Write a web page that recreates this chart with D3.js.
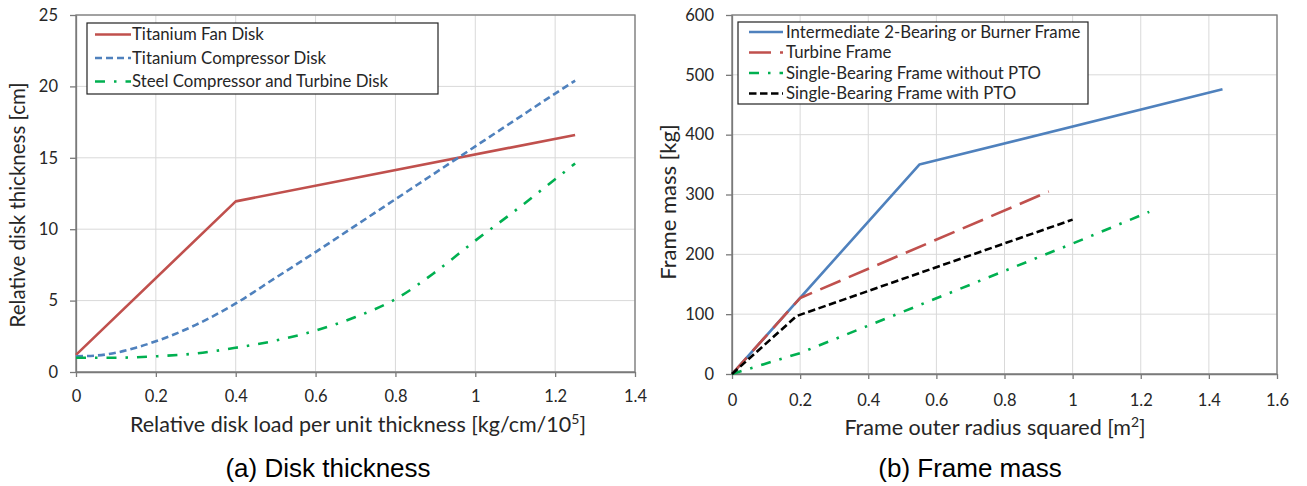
<!DOCTYPE html>
<html><head><meta charset="utf-8">
<script src="https://cdn.jsdelivr.net/npm/d3@7"></script>
<style>
body{margin:0;background:#fff;}
svg{display:block;}
</style></head>
<body><svg id="c" width="1307" height="486"></svg>
<script>
// ---------- data: (a) Disk thickness ----------
const diskXTicks = [0, 0.2, 0.4, 0.6, 0.8, 1, 1.2, 1.4];
const diskYTicks = [0, 5, 10, 15, 20, 25];
const fanX   = [0, 0.4, 1.25];
const fanY   = [1.2, 11.95, 16.6];
const compX  = [0, 0.05, 0.1, 0.15, 0.2, 0.3, 0.4, 0.5, 0.6, 0.7, 0.8, 0.9, 1.0, 1.1, 1.2, 1.25];
const compY  = [1.1, 1.15, 1.35, 1.7, 2.15, 3.3, 4.8, 6.6, 8.4, 10.25, 12.1, 13.95, 15.8, 17.65, 19.5, 20.4];
const steelX = [0, 0.1, 0.2, 0.3, 0.4, 0.5, 0.6, 0.7, 0.8, 0.9, 1.0, 1.1, 1.2, 1.25];
const steelY = [1.0, 1.0, 1.1, 1.3, 1.7, 2.2, 2.9, 3.85, 5.1, 7.0, 9.2, 11.3, 13.5, 14.6];
const diskNames = ["Titanium Fan Disk", "Titanium Compressor Disk", "Steel Compressor and Turbine Disk"];

// ---------- data: (b) Frame mass ----------
const frameXTicks = [0, 0.2, 0.4, 0.6, 0.8, 1, 1.2, 1.4, 1.6];
const frameYTicks = [0, 100, 200, 300, 400, 500, 600];
const interX = [0, 0.55, 1.44];
const interY = [0, 350, 476];
const turbX  = [0, 0.2, 0.93];
const turbY  = [0, 127, 305];
const sbNoX  = [0, 0.2, 1.0, 1.225];
const sbNoY  = [0, 35, 218, 271];
const sbPtoX = [0, 0.19, 1.0];
const sbPtoY = [0, 97, 258];
const frameNames = ["Intermediate 2-Bearing or Burner Frame", "Turbine Frame", "Single-Bearing Frame without PTO", "Single-Bearing Frame with PTO"];

const svg = d3.select("#c");
const FONT = "Lato, 'Open Sans', sans-serif";
const AXIS = "#7a7a7a", GRID = "#d9d9d9", TXT = "#262626";

function zip(xs, ys){ return xs.map((x,i)=>[x, ys[i]]); }

function panel(cfg){
  const g = svg.append("g");
  const x = d3.scaleLinear().domain(cfg.xd).range([cfg.l, cfg.r]);
  const y = d3.scaleLinear().domain(cfg.yd).range([cfg.b, cfg.t]);
  // grid
  g.append("g").selectAll("line").data(cfg.xt).join("line")
    .attr("x1", d=>x(d)).attr("x2", d=>x(d)).attr("y1", cfg.t).attr("y2", cfg.b)
    .attr("stroke", GRID).attr("stroke-width", 1);
  g.append("g").selectAll("line").data(cfg.yt).join("line")
    .attr("x1", cfg.l).attr("x2", cfg.r).attr("y1", d=>y(d)).attr("y2", d=>y(d))
    .attr("stroke", GRID).attr("stroke-width", 1);
  // border
  g.append("rect").attr("x", cfg.l).attr("y", cfg.t).attr("width", cfg.r-cfg.l).attr("height", cfg.b-cfg.t)
    .attr("fill","none").attr("stroke", AXIS).attr("stroke-width", 1.3);
  // axes
  const xa = g.append("g").attr("transform", `translate(0,${cfg.b})`)
    .call(d3.axisBottom(x).tickValues(cfg.xt).tickSize(5).tickPadding(cfg.xpad).tickSizeOuter(0).tickFormat(d3.format("~g")));
  const ya = g.append("g").attr("transform", `translate(${cfg.l},0)`)
    .call(d3.axisLeft(y).tickValues(cfg.yt).tickSize(6).tickPadding(12).tickSizeOuter(0).tickFormat(d3.format("~g")));
  [xa, ya].forEach(a=>{
    a.select(".domain").attr("stroke", AXIS).attr("stroke-width", 1.3);
    a.selectAll(".tick line").attr("stroke", AXIS).attr("stroke-width", 1.3);
    a.selectAll(".tick text").attr("fill", TXT).style("font-family", FONT).style("font-size", "16.5px");
  });
  // series
  const sg = g.append("g");
  cfg.series.forEach(s=>{
    const line = d3.line().x(d=>x(d[0])).y(d=>y(d[1])).curve(s.curve || d3.curveLinear);
    sg.append("path").attr("d", line(zip(s.xs, s.ys))).attr("fill","none")
      .attr("stroke", s.color).attr("stroke-width", 2.6).attr("stroke-dasharray", s.dash)
      .attr("stroke-linejoin","round");
  });
  // legend
  const lg = g.append("g");
  lg.append("rect").attr("x", cfg.lg.x).attr("y", cfg.lg.y).attr("width", cfg.lg.w).attr("height", cfg.lg.h)
    .attr("fill","#fff").attr("stroke","#222").attr("stroke-width",1.2);
  cfg.legendOrder.forEach((si,i)=>{
    const s = cfg.series[si];
    const cy = cfg.lg.y + cfg.lg.first + i*cfg.lg.step;
    lg.append("line").attr("x1", cfg.lg.x+cfg.lg.sx0).attr("x2", cfg.lg.x+cfg.lg.sx1).attr("y1", cy).attr("y2", cy)
      .attr("stroke", s.color).attr("stroke-width", 2.6).attr("stroke-dasharray", s.dash);
    lg.append("text").attr("x", cfg.lg.x+cfg.lg.tx).attr("y", cy).attr("dy","0.35em")
      .attr("fill", TXT).style("font-family", FONT).style("font-size","16.8px").text(s.name);
  });
  // axis titles
  const xt = g.append("text").attr("x", cfg.xtitle.x).attr("y", cfg.xtitle.y).attr("text-anchor","middle")
    .attr("fill", TXT).style("font-family", FONT).style("font-size","21.5px");
  xt.append("tspan").text(cfg.xtitle.text);
  if (cfg.xtitle.sup){
    xt.append("tspan").attr("dy","-8").style("font-size","14px").text(cfg.xtitle.sup);
    xt.append("tspan").attr("dy","8").text(cfg.xtitle.after);
  }
  g.append("text").attr("transform", `translate(${cfg.ytitle.x},${cfg.ytitle.y}) rotate(-90)`).attr("text-anchor","middle")
    .attr("dy","0.35em").attr("fill", TXT).style("font-family", FONT).style("font-size", cfg.ytitle.size).text(cfg.ytitle.text);
  // caption
  g.append("text").attr("x", cfg.cap.x).attr("y", cfg.cap.y).attr("text-anchor","middle").attr("dy","0.35em")
    .attr("fill","#000").style("font-family","'Liberation Sans', Arial, sans-serif").style("font-size","26px").text(cfg.cap.text);
}

panel({
  l:76, r:635, t:15, b:372, xd:[0,1.4], yd:[0,25], xt:diskXTicks, yt:diskYTicks, xpad:13,
  series:[
    {name:diskNames[0], xs:fanX, ys:fanY, color:"#C0504D", dash:null},
    {name:diskNames[1], xs:compX, ys:compY, color:"#4F81BD", dash:"7,4", curve:d3.curveMonotoneX},
    {name:diskNames[2], xs:steelX, ys:steelY, color:"#00B050", dash:"10,9,2.5,9", curve:d3.curveMonotoneX}
  ],
  legendOrder:[0,1,2],
  lg:{x:87, y:23, w:351, h:71, first:11.5, step:23.5, sx0:8, sx1:44, tx:45},
  xtitle:{x:358, y:432, text:"Relative disk load per unit thickness [kg/cm/10", sup:"5", after:"]"},
  ytitle:{x:18, y:205, text:"Relative disk thickness [cm]", size:"20.5px"},
  cap:{x:328, y:468, text:"(a) Disk thickness"}
});

panel({
  l:732, r:1277, t:15, b:374, xd:[0,1.6], yd:[0,600], xt:frameXTicks, yt:frameYTicks, xpad:15,
  series:[
    {name:frameNames[0], xs:interX, ys:interY, color:"#4F81BD", dash:null},
    {name:frameNames[1], xs:turbX, ys:turbY, color:"#C0504D", dash:"22,9"},
    {name:frameNames[2], xs:sbNoX, ys:sbNoY, color:"#00B050", dash:"10,9,2.5,9"},
    {name:frameNames[3], xs:sbPtoX, ys:sbPtoY, color:"#000000", dash:"7.5,3.5"}
  ],
  legendOrder:[0,1,2,3],
  lg:{x:738, y:22, w:350, h:82, first:10, step:20.5, sx0:11, sx1:45, tx:48},
  xtitle:{x:995, y:435, text:"Frame outer radius squared [m", sup:"2", after:"]"},
  ytitle:{x:668, y:202, text:"Frame mass [kg]", size:"22px"},
  cap:{x:970, y:468, text:"(b) Frame mass"}
});
</script>
</body></html>
